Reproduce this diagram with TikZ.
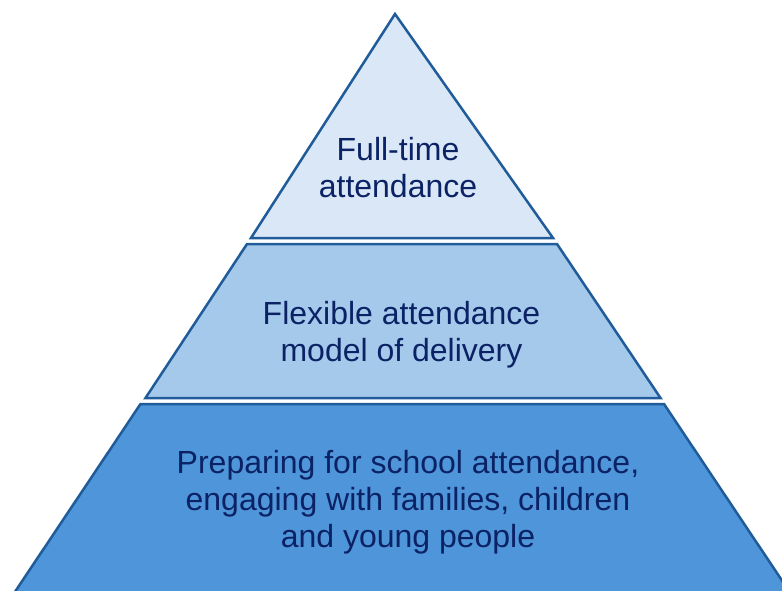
\documentclass[tikz,border=0pt]{standalone}
\usepackage{fontspec}
\setmainfont{Liberation Sans}
\definecolor{edgeblue}{HTML}{1F5C99}
\definecolor{txtblue}{HTML}{0B2265}
\definecolor{fillA}{HTML}{DAE7F6}
\definecolor{fillB}{HTML}{A5C9EB}
\definecolor{fillC}{HTML}{4E95D9}
\tikzset{tier/.style={draw=edgeblue,line width=2.5pt,line join=miter},
lbl/.style={text=txtblue,font=\fontsize{32pt}{37.2pt}\selectfont,align=center,inner sep=0pt}}
\begin{document}
\begin{tikzpicture}[x=1pt,y=-1pt]
\useasboundingbox (0,0) rectangle (782,591);
\clip (0,0) rectangle (782,591);
\fill[white] (0,0) rectangle (782,591);
\draw[tier,fill=fillA] (395,14) -- (553,238) -- (251,238) -- cycle;
\draw[tier,fill=fillB] (247,244) -- (557,244) -- (660.5,398) -- (145.5,398) -- cycle;
\draw[tier,fill=fillC] (140.5,404) -- (664,404) -- (793,597) -- (11.5,597) -- cycle;
\node[lbl] (top) at (398,167.5) {Full-time\\attendance};
\node[lbl] (mid) at (401.5,335) {Flexible attendance\\model of delivery};
\node[lbl] (bot) at (408,502.5) {Preparing for school attendance,\\engaging with families, children\\and young people};
\end{tikzpicture}
\end{document}
